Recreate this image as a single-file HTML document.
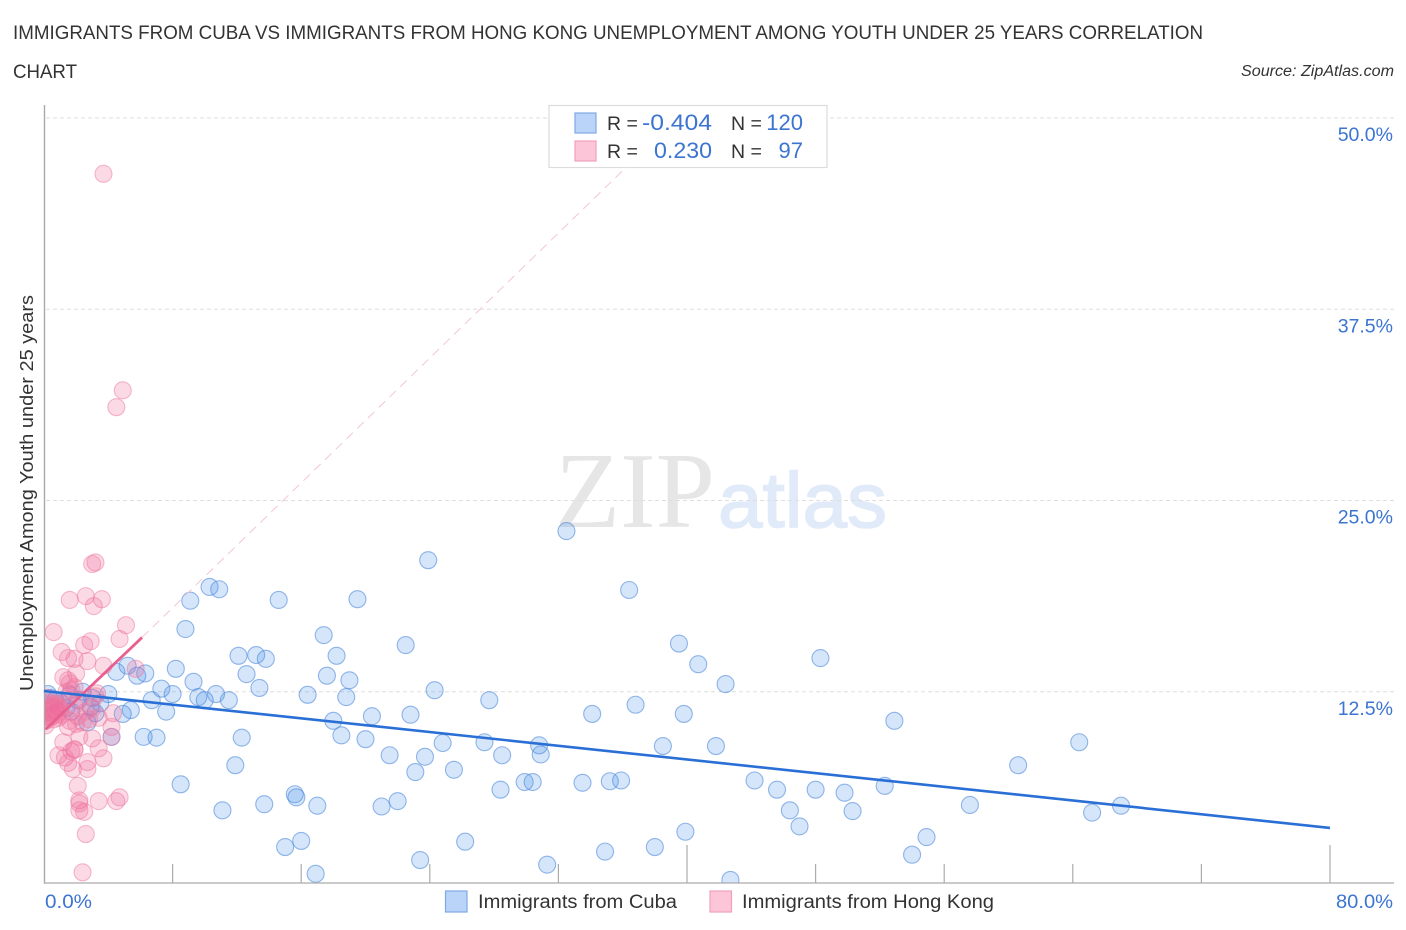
<!DOCTYPE html>
<html lang="en">
<head>
<meta charset="utf-8">
<title>Immigrants from Cuba vs Immigrants from Hong Kong Unemployment Correlation Chart</title>
<style>
html,body{margin:0;padding:0;background:#fff;width:1406px;height:930px;overflow:hidden}
svg{display:block}
text{font-family:"Liberation Sans",sans-serif}
</style>
</head>
<body>
<svg id="chart" xmlns="http://www.w3.org/2000/svg" width="1406" height="930" viewBox="0 0 1406 930">
  <defs>
    <clipPath id="plot-clip"><rect x="45" y="100" width="1349" height="782.5"/></clipPath>
  </defs>
  <rect x="0" y="0" width="1406" height="930" fill="#fff"/>
  <text x="13" y="39" font-size="19" fill="#333" textLength="1190" lengthAdjust="spacingAndGlyphs">IMMIGRANTS FROM CUBA VS IMMIGRANTS FROM HONG KONG UNEMPLOYMENT AMONG YOUTH UNDER 25 YEARS CORRELATION</text>
  <text x="13" y="78" font-size="19" fill="#333" textLength="64" lengthAdjust="spacingAndGlyphs">CHART</text>
  <text x="1394" y="76" font-size="15.5" font-style="italic" fill="#333" text-anchor="end" textLength="153" lengthAdjust="spacingAndGlyphs">Source: ZipAtlas.com</text>
  <text x="555" y="527" font-size="108" fill="#e6e6e6" textLength="160" lengthAdjust="spacingAndGlyphs" style="font-family:'Liberation Serif',serif">ZIP</text>
  <text x="718" y="527" font-size="78" fill="#e0eaf9" stroke="#e0eaf9" stroke-width="1.5" textLength="169" lengthAdjust="spacingAndGlyphs">atlas</text>
  <g id="grid"></g>
  <g id="axes"></g>
  <g id="cuba-dots" clip-path="url(#plot-clip)"></g>
  <g id="hk-dots" clip-path="url(#plot-clip)"></g>
  <g id="trends"></g>

  <g>
    <rect x="549" y="105.5" width="278" height="62" fill="#fff" fill-opacity="0.93" stroke="#dcdcdc" stroke-width="1.2"/>
    <rect x="575" y="113" width="21" height="20" fill="#b9d4f8" stroke="#7fa9e4" stroke-width="1.2"/>
    <rect x="575" y="141" width="21" height="20" fill="#fcc6d8" stroke="#f1a0bb" stroke-width="1.2"/>
    <text x="607" y="130" font-size="19.5" fill="#333">R =</text>
    <text x="712" y="130" font-size="22" fill="#3b74d1" text-anchor="end" textLength="70" lengthAdjust="spacingAndGlyphs">-0.404</text>
    <text x="731" y="130" font-size="19.5" fill="#333">N =</text>
    <text x="803" y="130" font-size="22" fill="#3b74d1" text-anchor="end">120</text>
    <text x="607" y="158" font-size="19.5" fill="#333">R =</text>
    <text x="712" y="158" font-size="22" fill="#3b74d1" text-anchor="end" textLength="58" lengthAdjust="spacingAndGlyphs">0.230</text>
    <text x="731" y="158" font-size="19.5" fill="#333">N =</text>
    <text x="803" y="158" font-size="22" fill="#3b74d1" text-anchor="end">97</text>
  </g>

  <text transform="translate(33,493) rotate(-90)" font-size="18.5" fill="#333" text-anchor="middle" textLength="396" lengthAdjust="spacingAndGlyphs">Unemployment Among Youth under 25 years</text>
  <g id="y-labels"></g>
  <text x="45" y="908" font-size="19.5" fill="#3b74d1" textLength="47" lengthAdjust="spacingAndGlyphs">0.0%</text>
  <text x="1393" y="908" font-size="19.5" fill="#3b74d1" text-anchor="end" textLength="57" lengthAdjust="spacingAndGlyphs">80.0%</text>

  <g>
    <rect x="445.5" y="891" width="21.5" height="21" fill="#b9d4f8" stroke="#7fa9e4" stroke-width="1.2"/>
    <text x="478" y="908" font-size="19" fill="#333" textLength="199" lengthAdjust="spacingAndGlyphs">Immigrants from Cuba</text>
    <rect x="710" y="891" width="21.5" height="21" fill="#fcc6d8" stroke="#f1a0bb" stroke-width="1.2"/>
    <text x="742" y="908" font-size="19" fill="#333" textLength="252" lengthAdjust="spacingAndGlyphs">Immigrants from Hong Kong</text>
  </g>
</svg>
<script>
const yTickValues = [12.5, 25, 37.5, 50];
const yTickLabels = ["12.5%", "25.0%", "37.5%", "50.0%"];
const xTickValues = [8, 16, 24, 32, 40, 48, 56, 64, 72, 80];
const xMajorTicks = [40, 80];

const cubaX = [32.5,23.9,36.4,10.3,10.9,9.1,14.6,19.5,8.8,17.4,22.5,39.5,12.1,13.2,13.8,18.2,40.7,48.3,8.2,4.5,5.2,5.8,6.3,12.6,17.6,19.0,9.3,42.4,7.3,13.4,10.7,24.3,16.4,18.8,8.0,9.6,10.0,11.5,27.7,6.7,4.0,2.4,3.0,3.5,7.6,5.4,4.9,20.4,22.8,34.1,36.8,39.8,52.9,18.0,2.7,18.5,20.0,12.3,6.2,7.0,4.2,24.8,27.4,30.8,38.5,41.8,64.4,21.5,28.5,30.9,23.7,11.9,60.6,23.1,25.5,29.9,30.4,33.5,35.2,35.9,44.2,8.5,28.4,45.6,48.0,49.8,52.3,15.6,15.7,13.7,22.0,17.0,21.0,11.1,57.6,67.0,46.4,50.3,65.2,47.0,39.9,54.9,16.0,15.0,26.2,38.0,34.9,54.0,23.4,31.3,16.9,42.7,0.4,0.7,1.1,0.25,1.4,1.7,2.1,1.6,2.9,3.2];
const cubaY = [23.0,21.1,19.15,19.35,19.2,18.45,18.5,18.55,16.6,16.2,15.55,15.65,14.85,14.9,14.65,14.85,14.3,14.7,14.0,13.8,14.2,13.55,13.7,13.65,13.55,13.25,13.15,13.0,12.7,12.75,12.35,12.6,12.3,12.15,12.35,12.15,11.95,11.95,11.95,11.95,12.35,12.5,12.1,11.75,11.2,11.3,11.05,10.9,11.0,11.05,11.65,11.05,10.6,10.6,10.5,9.65,9.4,9.5,9.55,9.5,9.55,9.15,9.2,9.0,8.95,8.95,9.2,8.35,8.35,8.4,8.25,7.7,7.7,7.25,7.4,6.6,6.6,6.55,6.65,6.7,6.7,6.45,6.1,6.1,6.1,5.9,6.35,5.8,5.6,5.15,5.35,5.05,5.0,4.75,5.1,5.05,4.75,4.7,4.6,3.7,3.35,3.0,2.75,2.35,2.7,2.35,2.05,1.85,1.5,1.2,0.6,0.2,12.1,11.95,11.75,12.35,11.45,11.2,11.95,12.3,11.5,11.1];

const hongKongX = [3.7,4.9,4.5,3.2,3.0,1.6,2.6,3.6,3.1,0.6,5.1,4.7,2.9,2.5,1.1,1.5,1.9,2.7,3.7,2.0,1.2,1.5,1.6,5.7,3.3,4.3,4.2,4.2,3.0,2.2,1.2,3.4,3.7,2.7,0.9,1.9,1.9,1.7,1.3,1.5,1.8,2.7,2.1,2.2,2.2,2.5,2.2,3.4,4.7,4.5,2.6,2.4,0.05,0.1,0.2,0.1,0.3,0.4,0.5,0.3,0.6,0.7,0.8,0.6,0.9,1.0,0.8,0.2,0.1,0.4,0.2,0.5,0.7,1.0,1.1,0.9,1.1,0.05,0.3,0.5,0.6,0.8,1.7,1.9,2.1,1.6,2.4,2.8,3.0,1.4,2.2,3.4,1.9,1.5,2.0,2.6,3.2];
const hongKongY = [46.35,32.2,31.1,20.95,20.85,18.5,18.75,18.55,18.1,16.4,16.85,15.95,15.8,15.55,15.1,14.7,14.65,14.5,14.2,13.7,13.45,13.25,13.05,14.0,12.4,11.1,10.2,9.55,9.45,9.55,9.2,8.8,8.15,7.9,8.35,8.75,8.7,8.6,8.2,7.85,7.45,7.45,6.35,5.4,4.75,4.65,5.2,5.35,5.6,5.35,3.2,0.7,11.7,11.2,10.9,10.6,11.8,11.4,11.1,10.8,11.7,11.3,11.0,10.7,11.5,11.2,11.7,12.1,10.3,11.2,11.4,10.9,11.6,11.4,11.0,10.8,11.7,11.0,11.1,11.6,11.2,11.4,12.6,11.6,10.9,10.6,10.5,10.7,11.4,12.5,12.0,10.8,12.8,10.2,10.4,11.2,12.2];

const cubaTrendX = [0, 80];
const cubaTrendY = [12.55, 3.6];
const hongKongTrendX = [0.1, 6.1];
const hongKongTrendY = [10.05, 16.05];
const hongKongDashX = [6.1, 38];
const hongKongDashY = [16.05, 48.6];

const SVG_NS = "http://www.w3.org/2000/svg";
function xScale(v) { return 44 + v * 16.075; }
function yScale(v) { return 883 - v * 15.3; }
function make(tag, attrs, parent) {
  const el = document.createElementNS(SVG_NS, tag);
  for (const k in attrs) el.setAttribute(k, attrs[k]);
  parent.appendChild(el);
  return el;
}

const grid = document.getElementById("grid");
yTickValues.forEach(function (v) {
  const el = make("line", {x1: 46, x2: 1394, y1: yScale(v), y2: yScale(v), stroke: "#dedede", "stroke-width": 1, "stroke-dasharray": "4 3"}, grid);
  
  
});

const axes = document.getElementById("axes");
const yAxisLine = make("line", {x1: 44.5, x2: 44.5, y1: 105, y2: 884, stroke: "#a8a8a8", "stroke-width": 1.4}, axes);


const xAxisLine = make("line", {x1: 44, x2: 1394, y1: 883, y2: 883, stroke: "#b8b8b8", "stroke-width": 1.6}, axes);


xTickValues.forEach(function (v) {
  const major = xMajorTicks.indexOf(v) >= 0;
  const el = make("line", {x1: xScale(v), x2: xScale(v), y1: major ? 845 : 864, y2: 883, stroke: "#ababab", "stroke-width": 1.2}, axes);
  
  
});

const yLabels = document.getElementById("y-labels");
yTickValues.forEach(function (v, i) {
  const el = make("text", {x: 1393, y: yScale(v) + 23, "font-size": 19.5, fill: "#3b74d1", "text-anchor": "end"}, yLabels);
  el.textContent = yTickLabels[i];
  
  
});

const cubaGroup = document.getElementById("cuba-dots");
cubaX.forEach(function (v, i) {
  const el = make("circle", {cx: xScale(v), cy: yScale(cubaY[i]), r: 8.5, fill: "#4a90e8", "fill-opacity": 0.23, stroke: "#4f8ada", "stroke-opacity": 0.6, "stroke-width": 1.1}, cubaGroup);
  
  
});

const hkGroup = document.getElementById("hk-dots");
hongKongX.forEach(function (v, i) {
  const el = make("circle", {cx: xScale(v), cy: yScale(hongKongY[i]), r: 8.5, fill: "#f06a9a", "fill-opacity": 0.25, stroke: "#ee7fa3", "stroke-opacity": 0.55, "stroke-width": 1.1}, hkGroup);
  
  
});

const trends = document.getElementById("trends");
const dashLine = make("line", {x1: xScale(hongKongDashX[0]), y1: yScale(hongKongDashY[0]), x2: xScale(hongKongDashX[1]), y2: yScale(hongKongDashY[1]), stroke: "#f3c6d5", "stroke-width": 1, "stroke-dasharray": "9 6"}, trends);


const hkLine = make("line", {x1: xScale(hongKongTrendX[0]), y1: yScale(hongKongTrendY[0]), x2: xScale(hongKongTrendX[1]), y2: yScale(hongKongTrendY[1]), stroke: "#e8608f", "stroke-width": 2.8}, trends);


const cubaLine = make("line", {x1: xScale(cubaTrendX[0]), y1: yScale(cubaTrendY[0]), x2: xScale(cubaTrendX[1]), y2: yScale(cubaTrendY[1]), stroke: "#2a6fd6", "stroke-width": 2.6}, trends);


</script>
</body>
</html>
